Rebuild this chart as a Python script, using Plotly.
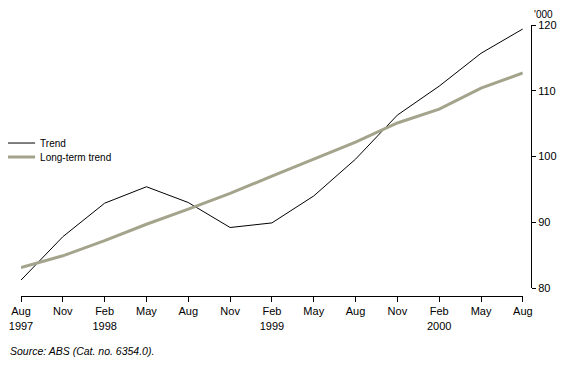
import plotly.graph_objects as go

quarters = ["Aug 1997", "Nov 1997", "Feb 1998", "May 1998", "Aug 1998", "Nov 1998",
            "Feb 1999", "May 1999", "Aug 1999", "Nov 1999", "Feb 2000", "May 2000", "Aug 2000"]
tick_labels = ["Aug<br>1997", "Nov", "Feb<br>1998", "May", "Aug", "Nov", "Feb<br>1999",
               "May", "Aug", "Nov", "Feb<br>2000", "May", "Aug"]
trend = [81.2, 87.8, 92.9, 95.4, 93.0, 89.2, 89.9, 94.0, 99.6, 106.3, 110.7, 115.7, 119.4]
long_term = [83.1, 84.9, 87.2, 89.7, 92.0, 94.4, 97.0, 99.6, 102.2, 105.1, 107.2, 110.4, 112.7]
y_ticks = [80, 90, 100, 110, 120]

xs = list(range(len(quarters)))
FONT = "Liberation Sans, Arial, sans-serif"

fig = go.Figure()
fig.add_trace(go.Scatter(x=xs, y=trend, mode="lines", name="Trend", legend="legend",
                         line=dict(color="#000000", width=1), text=quarters))
fig.add_trace(go.Scatter(x=xs, y=long_term, mode="lines", name="Long-term trend",
                         legend="legend2",
                         line=dict(color="#a4a48c", width=3), text=quarters))

leg_common = dict(x=-0.041, xanchor="left", yanchor="top",
                  font=dict(size=10, family=FONT), bgcolor="rgba(0,0,0,0)",
                  itemwidth=30)

fig.update_layout(
    width=559, height=370,
    margin=dict(l=13, r=36, t=17, b=82, autoexpand=False),
    paper_bgcolor="white", plot_bgcolor="white",
    font=dict(family=FONT, size=11, color="#000"),
    showlegend=True,
    legend=dict(y=0.618, **leg_common),
    legend2=dict(y=0.566, **leg_common),
    xaxis=dict(domain=[0, 0.984], range=[0, 12], tickmode="array", tickvals=xs,
               ticktext=tick_labels, showgrid=False, zeroline=False,
               showline=True, linecolor="#000", linewidth=1,
               ticks="outside", ticklen=5, tickcolor="#000",
               anchor="free", position=0, tickfont=dict(size=11), automargin=False),
    yaxis=dict(domain=[0.0295, 1], range=[80, 120], side="right", anchor="free",
               position=1, tickvals=y_ticks, showgrid=False, zeroline=False,
               showline=True, linecolor="#000", linewidth=1,
               ticks="outside", ticklen=4, tickcolor="#000",
               tickfont=dict(size=11), automargin=False),
)

fig.add_annotation(text="'000", xref="paper", yref="paper", x=1.004, y=1.0627,
                   xanchor="left", yanchor="top", showarrow=False, borderpad=0,
                   font=dict(size=10, family=FONT))
fig.add_annotation(text="<i>Source: ABS (Cat. no. 6354.0).</i>", xref="paper", yref="paper",
                   x=-0.0255, y=-0.203, xanchor="left", yanchor="middle", showarrow=False,
                   font=dict(size=10.5, family=FONT))

fig.write_html("out.html")
